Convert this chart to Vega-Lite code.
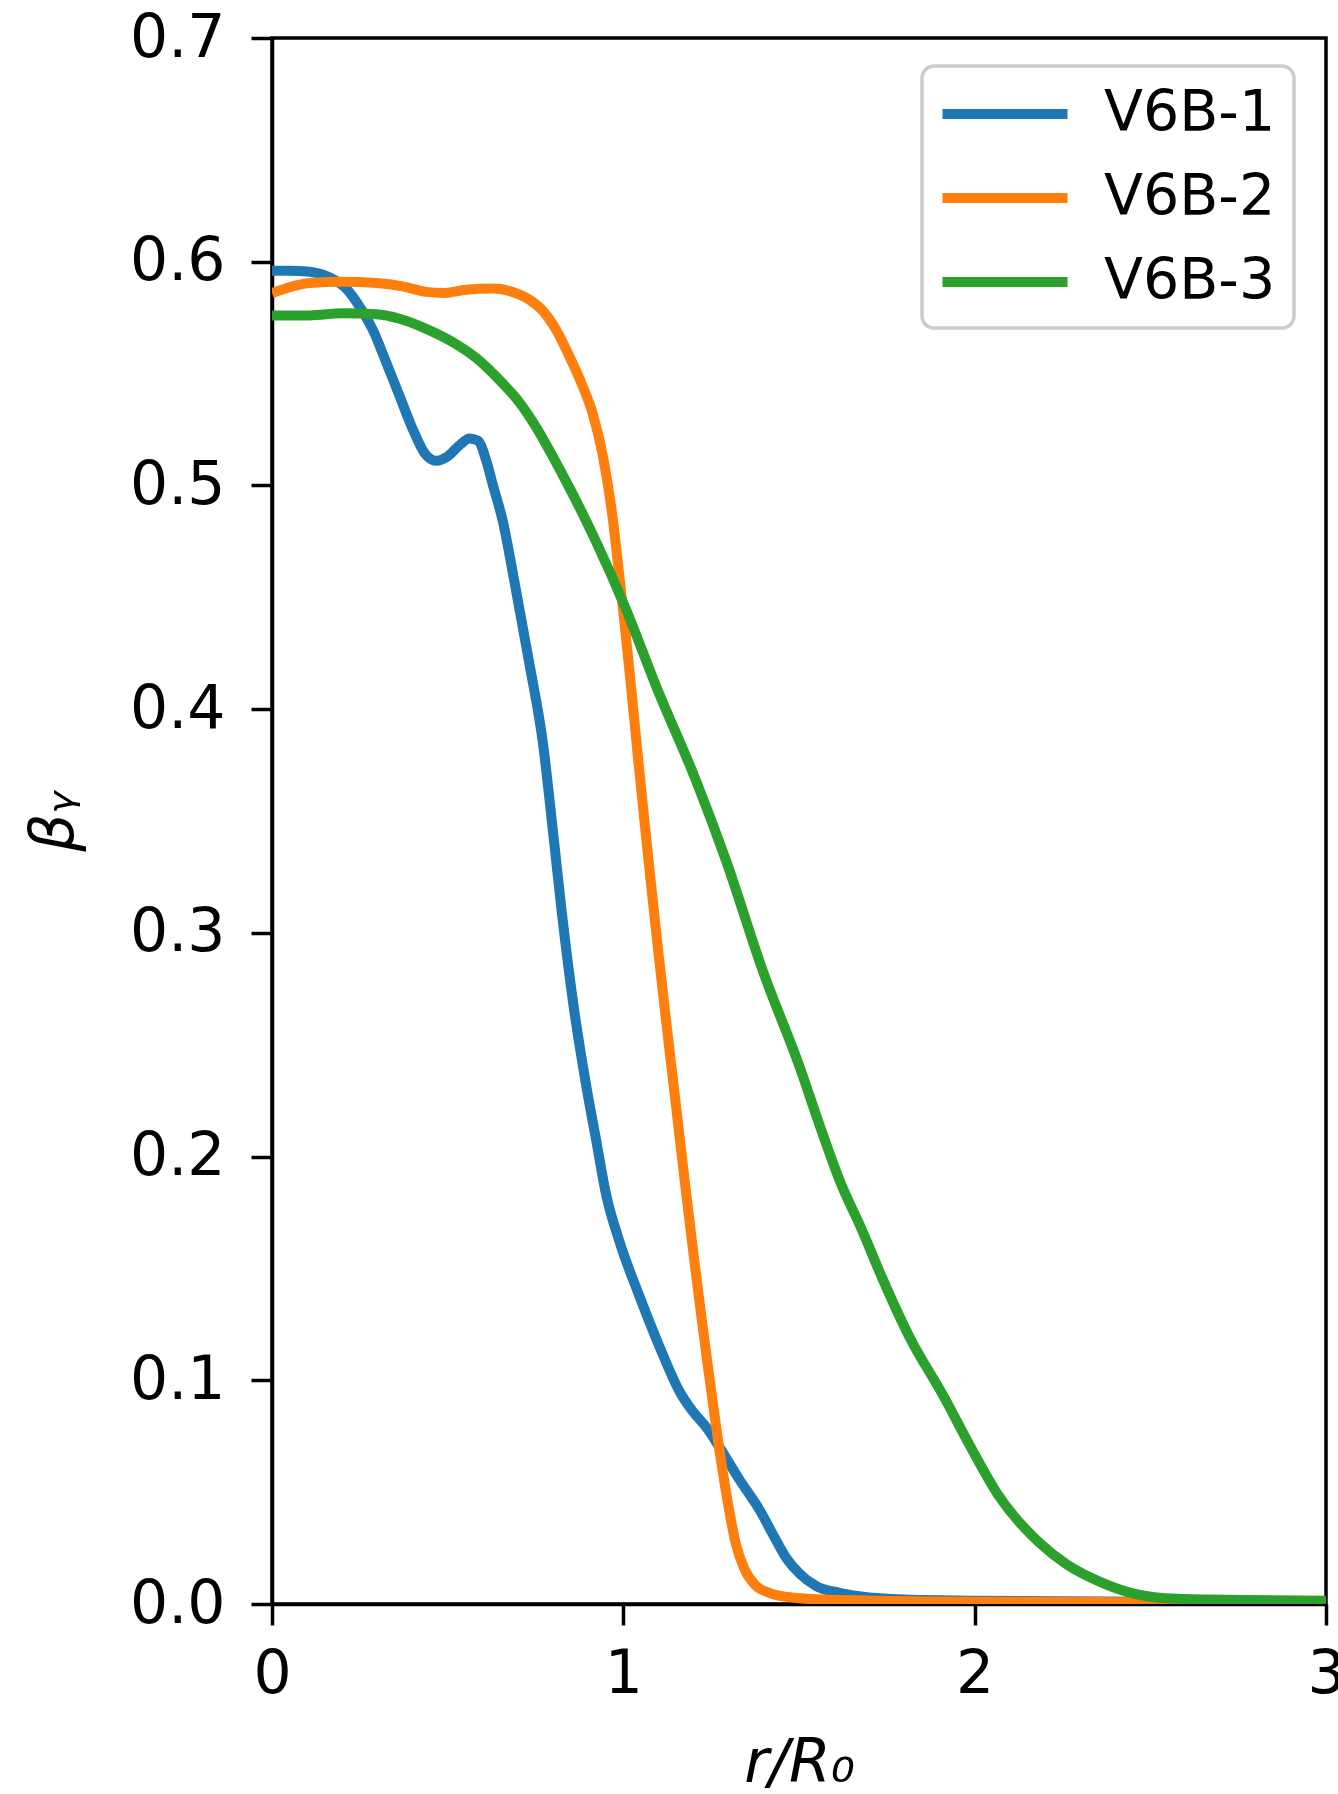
{
  "$schema": "https://vega.github.io/schema/vega-lite/v6.json",
  "width": 1054,
  "height": 1566,
  "autosize": {"type": "none"},
  "padding": {"left": 272, "top": 38, "right": 12, "bottom": 190},
  "background": "white",
  "config": {
    "view": {"stroke": "black", "strokeWidth": 3.5},
    "axis": {
      "grid": false,
      "domainColor": "black", "domainWidth": 3.5,
      "tickColor": "black", "tickWidth": 3.5, "tickSize": 21,
      "labelFont": "DejaVu Sans", "labelFontSize": 60, "labelColor": "black",
      "titleFont": "DejaVu Sans", "titleFontSize": 60, "titleColor": "black", "titleFontWeight": "normal"
    }
  },
  "data": {"values": [
    {"x":0,"y":0.596,"s":"V6B-1"},{"x":0.05,"y":0.596,"s":"V6B-1"},{"x":0.107,"y":0.5955,"s":"V6B-1"},{"x":0.164,"y":0.593,"s":"V6B-1"},{"x":0.211,"y":0.588,"s":"V6B-1"},{"x":0.249,"y":0.58,"s":"V6B-1"},{"x":0.287,"y":0.5695,"s":"V6B-1"},{"x":0.325,"y":0.555,"s":"V6B-1"},{"x":0.363,"y":0.54,"s":"V6B-1"},{"x":0.401,"y":0.525,"s":"V6B-1"},{"x":0.434,"y":0.5145,"s":"V6B-1"},{"x":0.467,"y":0.511,"s":"V6B-1"},{"x":0.5,"y":0.513,"s":"V6B-1"},{"x":0.534,"y":0.518,"s":"V6B-1"},{"x":0.562,"y":0.521,"s":"V6B-1"},{"x":0.586,"y":0.52,"s":"V6B-1"},{"x":0.61,"y":0.511,"s":"V6B-1"},{"x":0.629,"y":0.5,"s":"V6B-1"},{"x":0.657,"y":0.484,"s":"V6B-1"},{"x":0.69,"y":0.457,"s":"V6B-1"},{"x":0.733,"y":0.42,"s":"V6B-1"},{"x":0.771,"y":0.385,"s":"V6B-1"},{"x":0.8,"y":0.345,"s":"V6B-1"},{"x":0.825,"y":0.309,"s":"V6B-1"},{"x":0.856,"y":0.27,"s":"V6B-1"},{"x":0.894,"y":0.232,"s":"V6B-1"},{"x":0.923,"y":0.207,"s":"V6B-1"},{"x":0.951,"y":0.183,"s":"V6B-1"},{"x":0.989,"y":0.162,"s":"V6B-1"},{"x":1.046,"y":0.1375,"s":"V6B-1"},{"x":1.103,"y":0.115,"s":"V6B-1"},{"x":1.16,"y":0.095,"s":"V6B-1"},{"x":1.198,"y":0.086,"s":"V6B-1"},{"x":1.236,"y":0.079,"s":"V6B-1"},{"x":1.274,"y":0.07,"s":"V6B-1"},{"x":1.331,"y":0.0555,"s":"V6B-1"},{"x":1.388,"y":0.042,"s":"V6B-1"},{"x":1.426,"y":0.031,"s":"V6B-1"},{"x":1.464,"y":0.0205,"s":"V6B-1"},{"x":1.502,"y":0.0135,"s":"V6B-1"},{"x":1.549,"y":0.008,"s":"V6B-1"},{"x":1.615,"y":0.005,"s":"V6B-1"},{"x":1.672,"y":0.0035,"s":"V6B-1"},{"x":1.8,"y":0.002,"s":"V6B-1"},{"x":2.0,"y":0.0015,"s":"V6B-1"},{"x":2.5,"y":0.001,"s":"V6B-1"},{"x":3.0,"y":0.0008,"s":"V6B-1"},
    {"x":0,"y":0.586,"s":"V6B-2"},{"x":0.059,"y":0.589,"s":"V6B-2"},{"x":0.107,"y":0.5905,"s":"V6B-2"},{"x":0.2,"y":0.591,"s":"V6B-2"},{"x":0.297,"y":0.5905,"s":"V6B-2"},{"x":0.372,"y":0.589,"s":"V6B-2"},{"x":0.439,"y":0.5865,"s":"V6B-2"},{"x":0.486,"y":0.586,"s":"V6B-2"},{"x":0.553,"y":0.5875,"s":"V6B-2"},{"x":0.629,"y":0.588,"s":"V6B-2"},{"x":0.685,"y":0.5865,"s":"V6B-2"},{"x":0.733,"y":0.583,"s":"V6B-2"},{"x":0.771,"y":0.578,"s":"V6B-2"},{"x":0.809,"y":0.5695,"s":"V6B-2"},{"x":0.847,"y":0.5575,"s":"V6B-2"},{"x":0.885,"y":0.544,"s":"V6B-2"},{"x":0.913,"y":0.532,"s":"V6B-2"},{"x":0.942,"y":0.513,"s":"V6B-2"},{"x":0.97,"y":0.485,"s":"V6B-2"},{"x":0.989,"y":0.459,"s":"V6B-2"},{"x":1.003,"y":0.439,"s":"V6B-2"},{"x":1.02,"y":0.413,"s":"V6B-2"},{"x":1.04,"y":0.381,"s":"V6B-2"},{"x":1.06,"y":0.35,"s":"V6B-2"},{"x":1.08,"y":0.32,"s":"V6B-2"},{"x":1.1,"y":0.291,"s":"V6B-2"},{"x":1.12,"y":0.263,"s":"V6B-2"},{"x":1.14,"y":0.236,"s":"V6B-2"},{"x":1.16,"y":0.209,"s":"V6B-2"},{"x":1.18,"y":0.182,"s":"V6B-2"},{"x":1.2,"y":0.156,"s":"V6B-2"},{"x":1.22,"y":0.131,"s":"V6B-2"},{"x":1.24,"y":0.107,"s":"V6B-2"},{"x":1.26,"y":0.084,"s":"V6B-2"},{"x":1.28,"y":0.062,"s":"V6B-2"},{"x":1.3,"y":0.043,"s":"V6B-2"},{"x":1.32,"y":0.027,"s":"V6B-2"},{"x":1.345,"y":0.0155,"s":"V6B-2"},{"x":1.375,"y":0.0085,"s":"V6B-2"},{"x":1.416,"y":0.005,"s":"V6B-2"},{"x":1.473,"y":0.003,"s":"V6B-2"},{"x":1.568,"y":0.002,"s":"V6B-2"},{"x":2.0,"y":0.001,"s":"V6B-2"},{"x":2.5,"y":0.0008,"s":"V6B-2"},{"x":3.0,"y":0.0006,"s":"V6B-2"},
    {"x":0,"y":0.576,"s":"V6B-3"},{"x":0.107,"y":0.576,"s":"V6B-3"},{"x":0.2,"y":0.577,"s":"V6B-3"},{"x":0.297,"y":0.5765,"s":"V6B-3"},{"x":0.363,"y":0.5745,"s":"V6B-3"},{"x":0.439,"y":0.57,"s":"V6B-3"},{"x":0.515,"y":0.564,"s":"V6B-3"},{"x":0.581,"y":0.557,"s":"V6B-3"},{"x":0.648,"y":0.547,"s":"V6B-3"},{"x":0.705,"y":0.537,"s":"V6B-3"},{"x":0.752,"y":0.526,"s":"V6B-3"},{"x":0.799,"y":0.513,"s":"V6B-3"},{"x":0.853,"y":0.497,"s":"V6B-3"},{"x":0.919,"y":0.476,"s":"V6B-3"},{"x":1.008,"y":0.4445,"s":"V6B-3"},{"x":1.094,"y":0.41,"s":"V6B-3"},{"x":1.207,"y":0.368,"s":"V6B-3"},{"x":1.293,"y":0.332,"s":"V6B-3"},{"x":1.397,"y":0.283,"s":"V6B-3"},{"x":1.502,"y":0.24,"s":"V6B-3"},{"x":1.56,"y":0.2134,"s":"V6B-3"},{"x":1.619,"y":0.188,"s":"V6B-3"},{"x":1.677,"y":0.168,"s":"V6B-3"},{"x":1.736,"y":0.146,"s":"V6B-3"},{"x":1.814,"y":0.1195,"s":"V6B-3"},{"x":1.911,"y":0.093,"s":"V6B-3"},{"x":1.989,"y":0.07,"s":"V6B-3"},{"x":2.067,"y":0.0487,"s":"V6B-3"},{"x":2.184,"y":0.0274,"s":"V6B-3"},{"x":2.262,"y":0.0177,"s":"V6B-3"},{"x":2.36,"y":0.0097,"s":"V6B-3"},{"x":2.457,"y":0.0045,"s":"V6B-3"},{"x":2.575,"y":0.0023,"s":"V6B-3"},{"x":2.77,"y":0.0018,"s":"V6B-3"},{"x":3.0,"y":0.0015,"s":"V6B-3"}
  ]},
  "mark": {"type": "line", "strokeWidth": 10, "strokeCap": "butt", "strokeJoin": "round", "interpolate": "monotone", "clip": true},
  "encoding": {
    "x": {
      "field": "x", "type": "quantitative",
      "scale": {"domain": [0, 3], "nice": false, "zero": false},
      "axis": {"values": [0, 1, 2, 3], "format": "d", "title": "r/R₀", "titleFontStyle": "italic", "labelPadding": 20, "titlePadding": 30, "labelFlush": false}
    },
    "y": {
      "field": "y", "type": "quantitative",
      "scale": {"domain": [0, 0.7], "nice": false},
      "axis": {"values": [0, 0.1, 0.2, 0.3, 0.4, 0.5, 0.6, 0.7], "format": ".1f", "title": "βᵧ", "titleFontStyle": "italic", "labelPadding": 26, "titlePadding": 44}
    },
    "color": {
      "field": "s", "type": "nominal",
      "scale": {"domain": ["V6B-1", "V6B-2", "V6B-3"], "range": ["#1f77b4", "#ff7f0e", "#2ca02c"]},
      "legend": {
        "title": null, "orient": "none", "legendX": 650, "legendY": 28,
        "strokeColor": "#cccccc", "cornerRadius": 12, "fillColor": "white",
        "padding": 18, "symbolType": "M-2.5,0H2.5", "symbolSize": 2500, "symbolStrokeWidth": 10, "symbolOffset": 35,
        "labelFont": "DejaVu Sans", "labelFontSize": 57, "labelColor": "black", "labelOffset": 69, "labelLimit": 0, "rowPadding": 26,
        "encode": {"legend": {"update": {"strokeWidth": {"value": 3.5}}}}
      }
    }
  }
}
